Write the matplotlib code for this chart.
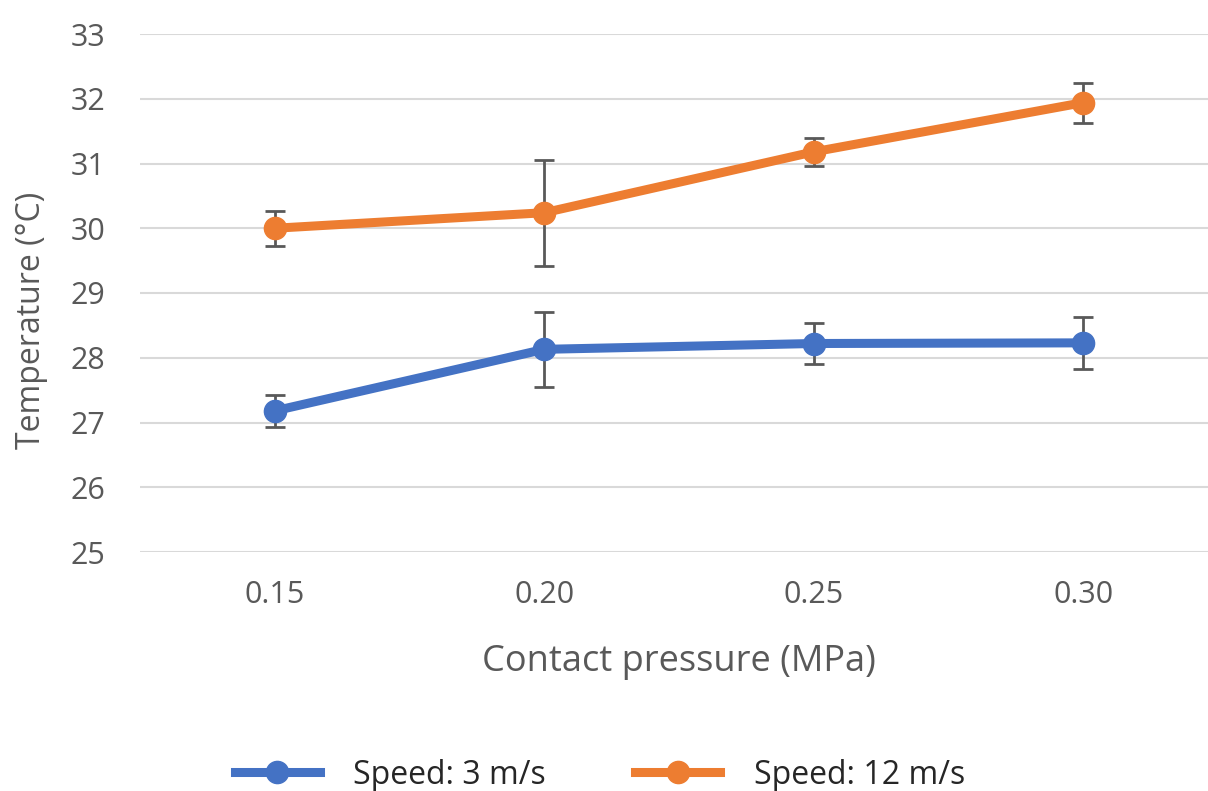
import matplotlib.pyplot as plt
from matplotlib.lines import Line2D

plt.rcParams['font.family'] = ['Open Sans', 'DejaVu Sans']

pressure = ["0.15", "0.20", "0.25", "0.30"]
temp_3 = [27.18, 28.13, 28.22, 28.23]
err_3 = [0.25, 0.58, 0.31, 0.40]
temp_12 = [30.0, 30.24, 31.18, 31.94]
err_12 = [0.27, 0.82, 0.22, 0.31]

blue = "#4472C4"
orange = "#ED7D31"
gray = "#595959"

fig = plt.figure(figsize=(12.08, 7.91), dpi=100)
ax = fig.add_axes([140 / 1208, 239 / 791, 1078 / 1208, 518 / 791])

x = range(len(pressure))
for y, e, c in [(temp_3, err_3, blue), (temp_12, err_12, orange)]:
    ax.errorbar(x, y, yerr=e, color=c, lw=6.5, marker="o", ms=16,
                ecolor=gray, elinewidth=2, capsize=7, capthick=2, zorder=3)

ax.set_xlim(-0.5, 3.5)
ax.set_ylim(25, 33)
ax.set_yticks(range(25, 34))
ax.set_xticks(list(x))
ax.set_xticklabels(pressure)
ax.grid(axis="y", color="#d9d9d9", lw=1.5)
ax.set_axisbelow(True)
for s in ax.spines.values():
    s.set_visible(False)
ax.tick_params(length=0, labelsize=22, colors=gray)
ax.tick_params(axis="y", pad=25)
ax.tick_params(axis="x", pad=20)

ax.set_xlabel("Contact pressure (MPa)", fontsize=26, color=gray, labelpad=25)
ax.set_ylabel("Temperature (°C)", fontsize=23, color=gray)
ax.yaxis.set_label_coords(-0.085, 0.447)

handles = [Line2D([], [], color=blue, lw=6.5, marker="o", ms=16),
           Line2D([], [], color=orange, lw=6.5, marker="o", ms=16)]
leg = fig.legend(handles, ["Speed: 3 m/s", "Speed: 12 m/s"], ncol=2,
                 loc="center", bbox_to_anchor=(600 / 1208, 1 - 775 / 791),
                 frameon=False, fontsize=23, handlelength=2.65,
                 handletextpad=1.05, columnspacing=2.8)
for t in leg.get_texts():
    t.set_color("#262626")

fig.savefig("out.png", dpi=100)
